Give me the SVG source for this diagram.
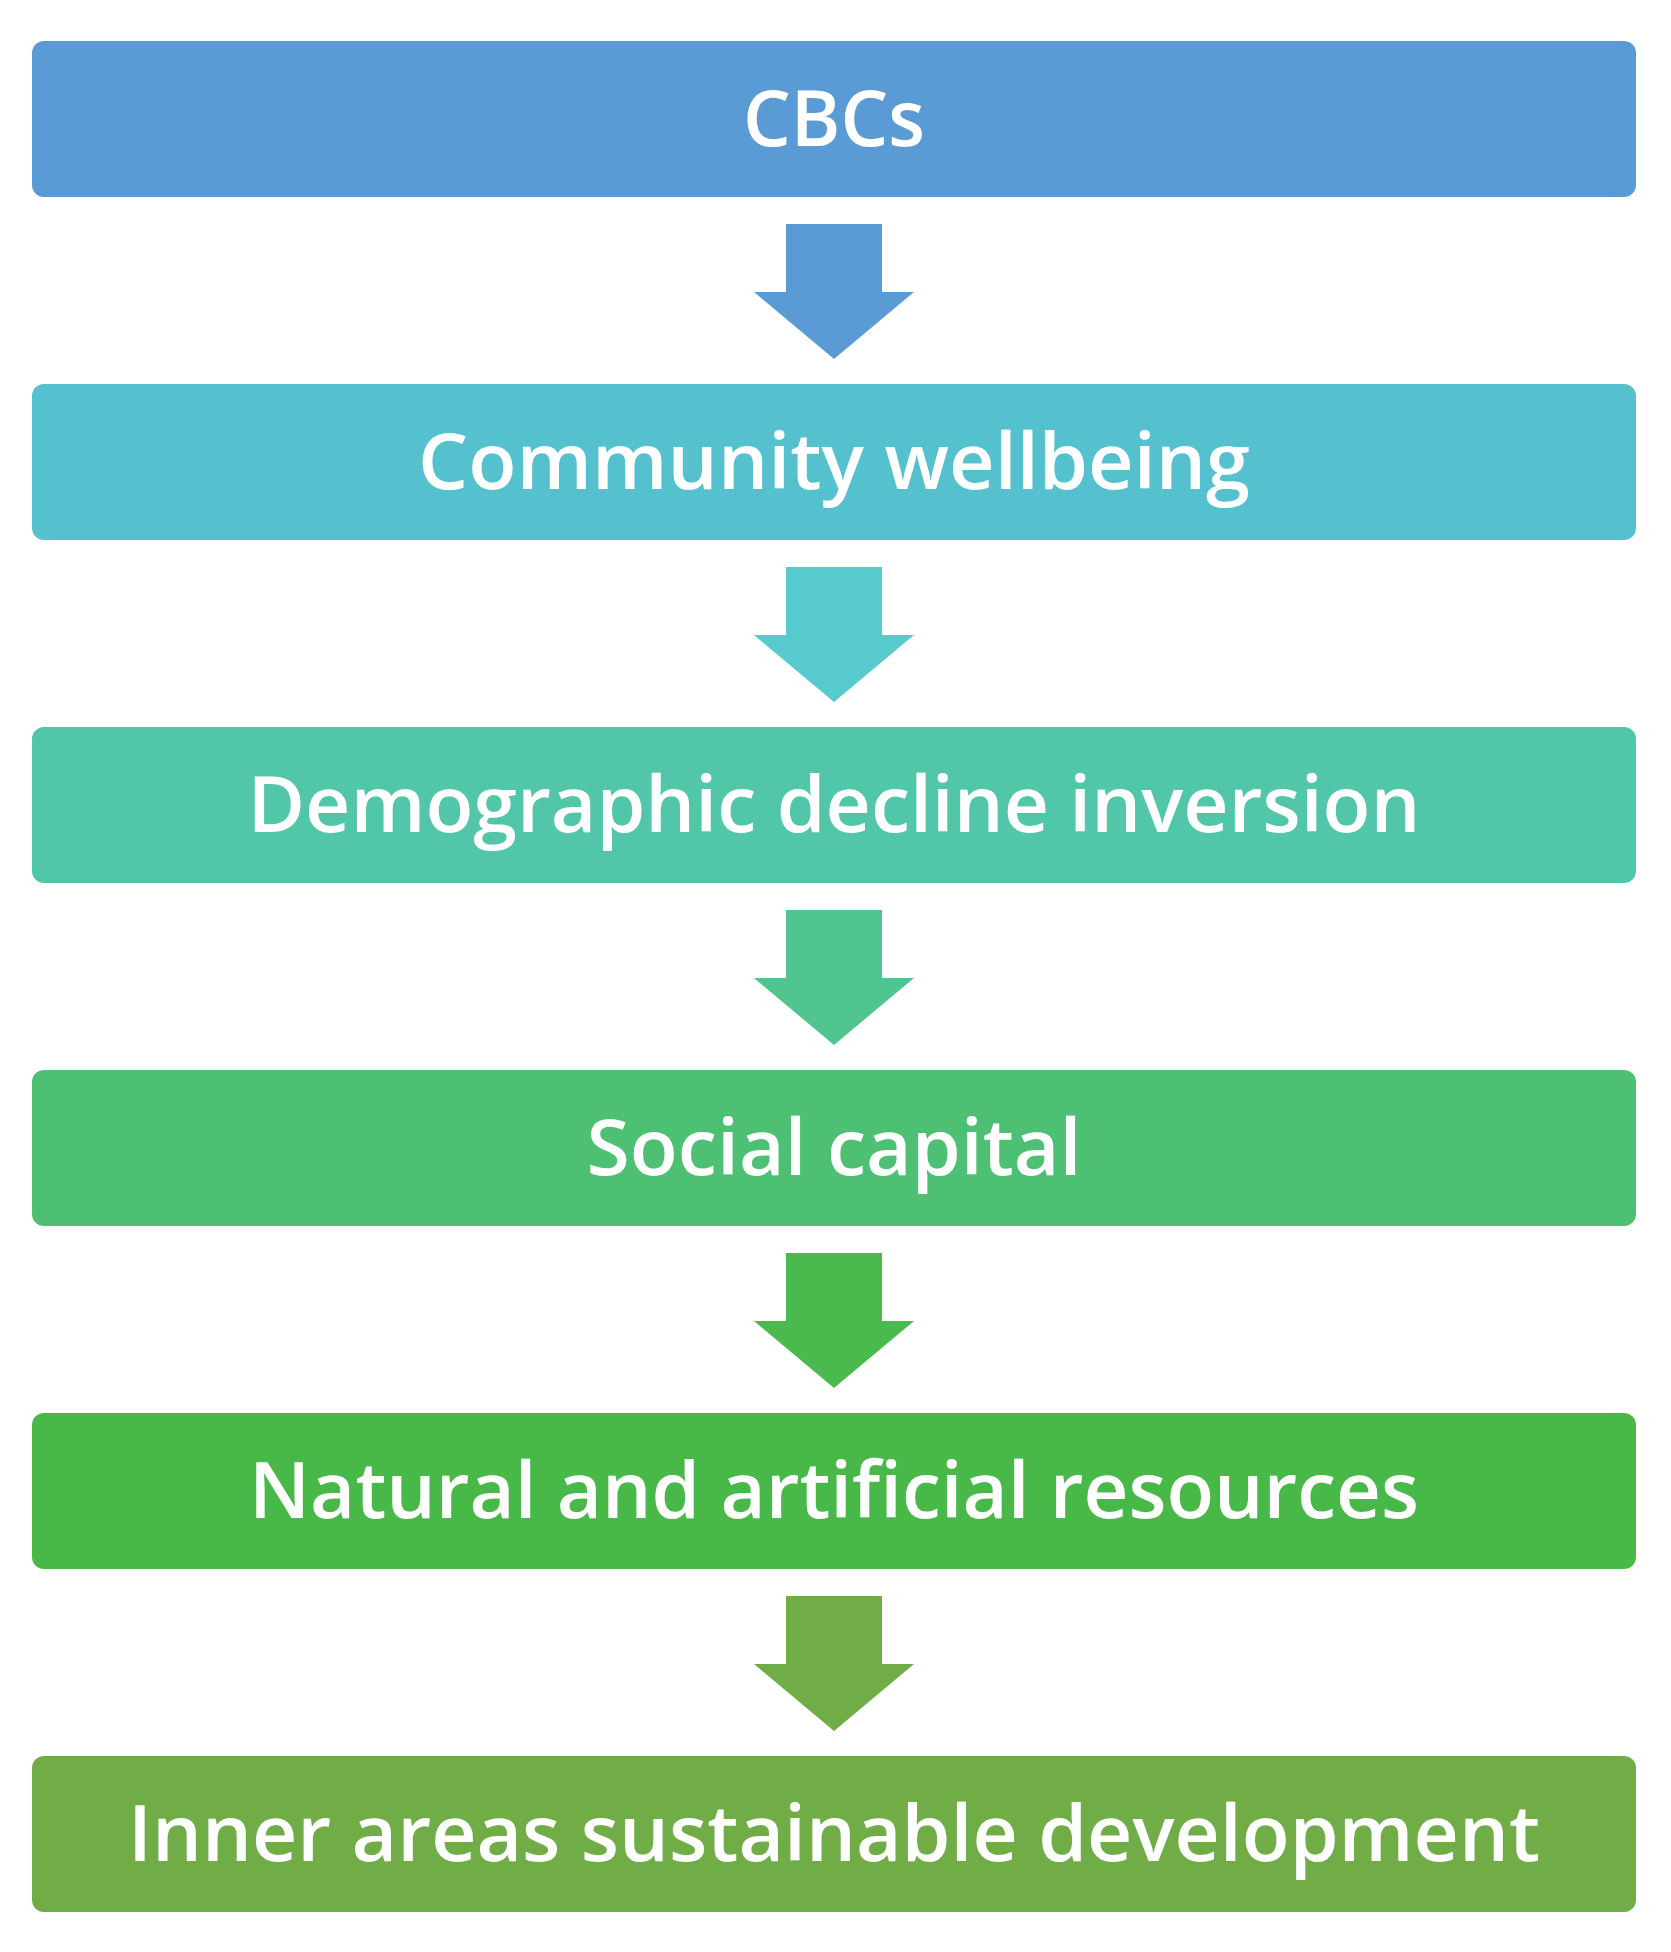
<svg xmlns="http://www.w3.org/2000/svg" width="1671" height="1952" viewBox="0 0 1671 1952">
<style>
.b{stroke:none}
.t{font-family:"Open Sans","Liberation Sans",sans-serif;font-weight:600;font-size:78px;fill:#fff;text-anchor:middle}
</style>
<rect width="1671" height="1952" fill="#fff"/>
<g id="connectors">
<path d="M786 224H882V292H914L834 359L754 292H786Z" fill="#5B9BD5"/>
<path d="M786 567H882V635H914L834 702L754 635H786Z" fill="#57CACD"/>
<path d="M786 910H882V978H914L834 1045L754 978H786Z" fill="#50C58F"/>
<path d="M786 1253H882V1321H914L834 1388L754 1321H786Z" fill="#4ABA4F"/>
<path d="M786 1596H882V1664H914L834 1731L754 1664H786Z" fill="#70AD47"/>
</g>
<g id="n1"><rect x="32" y="41" width="1604" height="156" rx="12" fill="#5B9BD5"/><text class="t" x="834" y="146" textLength="182" lengthAdjust="spacingAndGlyphs">CBCs</text></g>
<g id="n2"><rect x="32" y="384" width="1604" height="156" rx="12" fill="#56C1CE"/><text class="t" x="834" y="489" textLength="832" lengthAdjust="spacingAndGlyphs">Community wellbeing</text></g>
<g id="n3"><rect x="32" y="727" width="1604" height="156" rx="12" fill="#52C6A8"/><text class="t" x="834" y="832" textLength="1173" lengthAdjust="spacingAndGlyphs">Demographic decline inversion</text></g>
<g id="n4"><rect x="32" y="1070" width="1604" height="156" rx="12" fill="#4DC073"/><text class="t" x="834" y="1175" textLength="495" lengthAdjust="spacingAndGlyphs">Social capital</text></g>
<g id="n5"><rect x="32" y="1413" width="1604" height="156" rx="12" fill="#48B948"/><text class="t" x="834" y="1518" textLength="1170" lengthAdjust="spacingAndGlyphs">Natural and artificial resources</text></g>
<g id="n6"><rect x="32" y="1756" width="1604" height="156" rx="12" fill="#70AD47"/><text class="t" x="834" y="1861" textLength="1412" lengthAdjust="spacingAndGlyphs">Inner areas sustainable development</text></g>
</svg>
